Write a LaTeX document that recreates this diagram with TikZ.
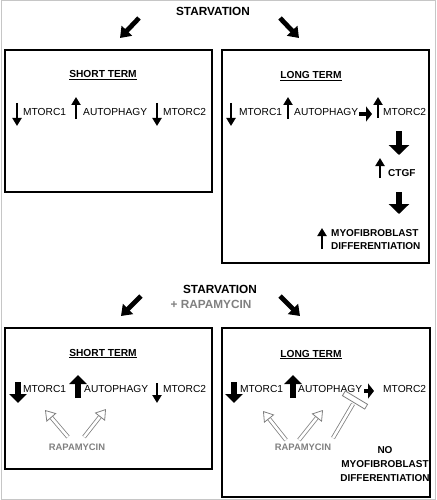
\documentclass[tikz,border=0pt]{standalone}
\usepackage{fontspec}
\setmainfont{Liberation Sans}
\usetikzlibrary{arrows.meta,calc}
\definecolor{rapagray}{gray}{0.5}
\begin{document}
\begin{tikzpicture}[x=1pt,y=-1pt,
  box/.style={draw, line width=1.4pt},
  txt/.style={font=\fontsize{10.2}{12}\selectfont, inner sep=0pt, anchor=base west},
  btxt/.style={font=\fontsize{10}{12}\selectfont\bfseries, inner sep=0pt, anchor=base west},
  head/.style={font=\fontsize{10.2}{12}\selectfont\bfseries, inner sep=0pt, anchor=base},
  title/.style={font=\fontsize{11.8}{13}\selectfont\bfseries, inner sep=0pt},
  rtxt/.style={font=\fontsize{9.4}{11}\selectfont\bfseries, text=rapagray, inner sep=0pt},
  thinarr/.style={line width=2.2pt, -{Triangle[width=9pt,length=8pt]}},
  blockarr/.style={line width=6.5pt, -{Triangle[width=17pt,length=9pt]}},
  smallblock/.style={line width=3.5pt, -{Triangle[width=15pt,length=6pt]}},
  bigblock/.style={line width=6.5pt, -{Triangle[width=20pt,length=10pt]}},
  diagarr/.style={line width=4.8pt, -{Triangle[width=14pt,length=10pt]}},
  hollow/.style={draw=rapagray, double=white, double distance=2.6pt, line width=0.8pt,
    -{Triangle[open, width=13pt, length=10pt, line width=0.8pt]}},
]
\useasboundingbox (0,0) rectangle (436,500);
\draw[gray!45, line width=1pt] (1,1) rectangle (435,499);

% top
\node[title] (starv1) at (213,11) {STARVATION};
\coordinate (d1a) at (139,18); \coordinate (d1b) at (120,38);
\coordinate (d2a) at (280,18); \coordinate (d2b) at (299,38);
\draw[diagarr] (d1a) -- (d1b);
\draw[diagarr] (d2a) -- (d2b);

% box 1
\draw[box] (5,50) rectangle (212,192);
\node[head] (short1) at (103,78) {\underline{SHORT TERM}};
\node[txt] (m1a) at (23,116) {MTORC1};
\node[txt] (au1) at (83,116) {AUTOPHAGY};
\node[txt] (m2a) at (163,116) {MTORC2};
\draw[thinarr] (17,103) -- (17,126);
\draw[thinarr] (76,119) -- (76,97);
\draw[thinarr] (157,103) -- (157,126);

% box 2
\draw[box] (222,50) rectangle (429,263);
\node[head] (long1) at (311,79) {\underline{LONG TERM}};
\node[txt] (m1b) at (239,116) {MTORC1};
\node[txt] (au2) at (294,116) {AUTOPHAGY};
\node[txt] (m2b) at (383,116) {MTORC2};
\draw[thinarr] (231,103) -- (231,126);
\draw[thinarr] (288,119) -- (288,97);
\draw[smallblock] (359,114) -- (372,114);
\draw[thinarr] (378,118) -- (378,97);
\draw[bigblock] (399,131) -- (399,155);
\node[btxt] (ctgf) at (388,176.5) {CTGF};
\draw[thinarr] (380,178) -- (380,158);
\draw[bigblock] (399,192) -- (399,214);
\node[font=\fontsize{10}{13}\selectfont\bfseries, inner sep=0pt, anchor=west, align=left] (myo1) at (331,240) {MYOFIBROBLAST\\DIFFERENTIATION};
\draw[thinarr] (322,249) -- (322,228);

% middle
\node[title] (starv2) at (220,289) {STARVATION};
\node[title, text=rapagray] (plusrapa) at (211,304) {+ RAPAMYCIN};
\coordinate (d3a) at (141,296); \coordinate (d3b) at (121,316);
\coordinate (d4a) at (280,296); \coordinate (d4b) at (300,316);
\draw[diagarr] (d3a) -- (d3b);
\draw[diagarr] (d4a) -- (d4b);

% box 3
\draw[box] (5,328) rectangle (212,469);
\node[head] (short2) at (103,356) {\underline{SHORT TERM}};
\node[txt] (m1c) at (23,392.5) {MTORC1};
\node[txt] (au3) at (84,392.5) {AUTOPHAGY};
\node[txt] (m2c) at (163,392.5) {MTORC2};
\draw[blockarr] (18,382) -- (18,403);
\draw[blockarr] (78,398) -- (78,375);
\draw[thinarr] (157,383) -- (157,403);
\node[rtxt] (rapa1) at (77,447) {RAPAMYCIN};
\coordinate (h1a) at (68,437); \coordinate (h1b) at (45,410);
\coordinate (h2a) at (84,437); \coordinate (h2b) at (106,409);
\draw[hollow] (h1a) -- (h1b);
\draw[hollow] (h2a) -- (h2b);

% box 4
\draw[box] (222,328) rectangle (430,497);
\node[head] (long2) at (311,357) {\underline{LONG TERM}};
\node[txt] (m1d) at (240,392.5) {MTORC1};
\node[txt] (au4) at (298,392.5) {AUTOPHAGY};
\node[txt] (m2d) at (383,392.5) {MTORC2};
\draw[blockarr] (234,382) -- (234,403);
\draw[blockarr] (293,398) -- (293,375);
\draw[smallblock] (364,391) -- (374,391);
\node[rtxt] (rapa2) at (303,447) {RAPAMYCIN};
\coordinate (h3a) at (286,440); \coordinate (h3b) at (263,411);
\coordinate (h4a) at (299,440); \coordinate (h4b) at (323,410);
\coordinate (t1a) at (333,438); \coordinate (t1b) at (353,404);
\draw[draw=rapagray, double=white, double distance=2.6pt, line width=0.8pt] (t1a) -- (t1b);
\node[draw=rapagray, fill=white, line width=0.8pt, minimum width=26pt, minimum height=5.5pt, inner sep=0pt, rotate=-31] (tcap) at (355,400) {};
\draw[hollow] (h3a) -- (h3b);
\draw[hollow] (h4a) -- (h4b);
\node[font=\fontsize{10}{14}\selectfont\bfseries, inner sep=0pt, align=center] (nomyo) at (385,464) {NO\\MYOFIBROBLAST\\DIFFERENTIATION};
\end{tikzpicture}
\end{document}
